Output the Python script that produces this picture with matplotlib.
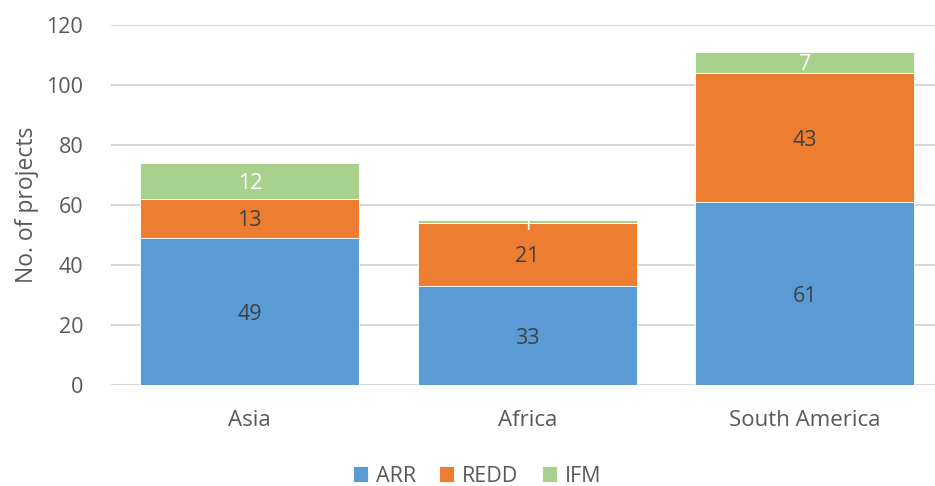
import matplotlib
matplotlib.use("Agg")
import matplotlib.pyplot as plt
import numpy as np

categories = ["Asia", "Africa", "South America"]
arr = [49, 33, 61]
redd = [13, 21, 43]
ifm = [12, 1, 7]
series_names = ["ARR", "REDD", "IFM"]
colors = ["#5B9BD5", "#ED7D31", "#A9D18E"]
label_colors = ["#404040", "#404040", "#FFFFFF"]
yticks = [0, 20, 40, 60, 80, 100, 120]

plt.rcParams['font.family'] = ['Open Sans', 'DejaVu Sans']

fig = plt.figure(figsize=(9.35, 4.86), dpi=100)
ax = fig.add_axes([111/935, 1-385/486, 832.5/935, 360/486])

x = np.arange(len(categories))
width = 0.79
bottom = np.zeros(len(categories))
for name, vals, c, lc in zip(series_names, [arr, redd, ifm], colors, label_colors):
    vals = np.array(vals, dtype=float)
    ax.bar(x, vals, width, bottom=bottom, color=c, label=name,
           edgecolor="white", linewidth=0.6, zorder=3)
    for xi, b, v in zip(x, bottom, vals):
        ax.text(xi, b + v/2, f"{int(v)}", ha="center", va="center_baseline",
                color=lc, fontsize=15.5, zorder=4)
    bottom += vals

ax.set_xlim(-0.5, 2.5)
ax.set_ylim(0, 120)
ax.set_yticks(yticks)
ax.set_xticks(x)
ax.set_xticklabels(categories)
ax.yaxis.grid(True, color="#D9D9D9", linewidth=1.5, zorder=0)
ax.set_axisbelow(True)
for s in ax.spines.values():
    s.set_visible(False)
ax.tick_params(axis="both", length=0, labelsize=15.5, colors="#595959")
ax.tick_params(axis="x", labelsize=16)
ax.tick_params(axis="y", pad=20)
ax.tick_params(axis="x", pad=18)
ax.set_ylabel("No. of projects", fontsize=16.5, color="#595959", labelpad=5)

leg = fig.legend(loc="center", bbox_to_anchor=(477/935, 1-476/486), ncol=3,
                 frameon=False, fontsize=15.5, handlelength=0.7, handleheight=0.7,
                 columnspacing=1.1, handletextpad=0.35, labelcolor="#595959")

fig.savefig("out.png", dpi=100)
